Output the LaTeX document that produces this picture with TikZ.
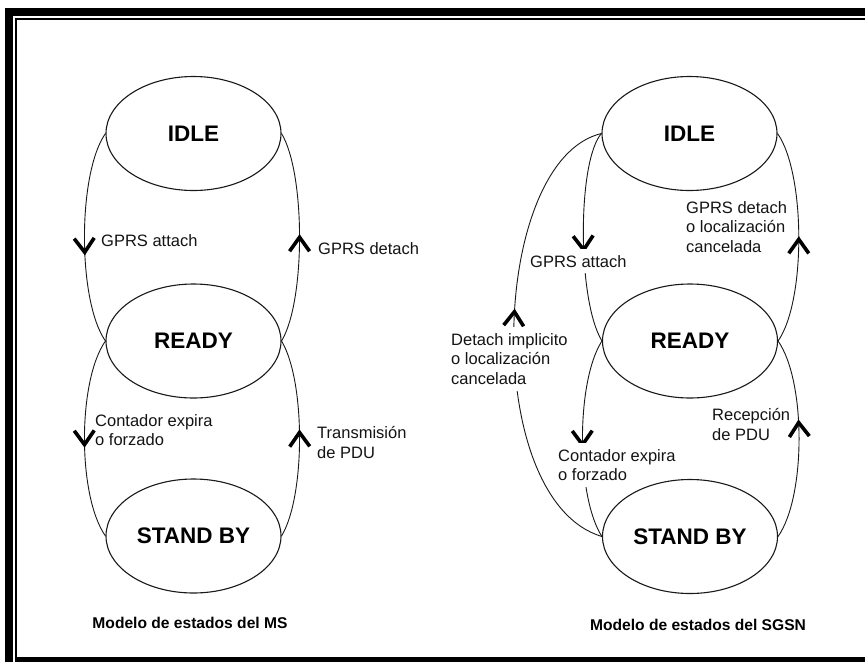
\documentclass[tikz,border=0pt]{standalone}
\usepackage{fontspec}
\setmainfont{Liberation Sans}
\usetikzlibrary{shapes.geometric,decorations.markings}
\pgfdeclarelayer{paper}
\pgfdeclarelayer{wires}
\pgfdeclarelayer{labels}
\pgfsetlayers{paper,wires,labels,main}

\begin{document}
\begin{tikzpicture}[x=1pt,y=-1pt,
  state/.style={draw=black!90, line width=1.1pt, ellipse,
    minimum width=175pt, minimum height=114pt, inner sep=0pt,
    font=\fontsize{22.5}{27}\selectfont\bfseries},
  trans/.style={draw=black!90, line width=0.9pt},
  % bold open chevron placed along a transition, tip at the mark
  chev/.style={postaction={decorate},
    decoration={markings, mark=at position #1 with
      {\draw[black, line width=3.6pt, line join=miter, line cap=butt]
         (-14,10) -- (0,0) -- (-14,-10);}}},
  lbl/.style={anchor=north west, align=left, inner xsep=1pt, inner ysep=6pt,
    text=black!92, font=\fontsize{16.5}{19.7}\selectfont},
  gap/.style={fill=white},
  caption/.style={font=\fontsize{15.6}{18}\selectfont\bfseries},
]
% page and frame
\begin{pgfonlayer}{paper}
\fill[white] (0,0) rectangle (865,662);
\end{pgfonlayer}
\useasboundingbox (0,0) rectangle (865,662);
\fill (5,8) rectangle (865,16);
\fill (5,8) rectangle (13,662);
\fill (15,18) rectangle (865,20);
\fill (15,18) rectangle (17,662);
\fill (15,657) rectangle (865,662);

% states of the MS
\node[state] (idleL)  at (193.5,133.5) {IDLE};
\node[state] (readyL) at (193.5,341)   {READY};
\node[state] (standL) at (193.5,536)   {STAND BY};
% states of the SGSN
\node[state] (idleR)  at (689.5,133.5) {IDLE};
\node[state] (readyR) at (690,341)     {READY};
\node[state] (standR) at (690,536.5)   {STAND BY};

\begin{pgfonlayer}{wires}
% MS transitions
\draw[trans, chev=0.57] (idleL.west)  .. controls +(-28,40) and +(-28,-40) .. (readyL.west);
\draw[trans, chev=0.50] (readyL.east) .. controls +(24,-40) and +(24,40)   .. (idleL.east);
\draw[trans, chev=0.53] (readyL.west) .. controls +(-28,40) and +(-28,-40) .. (standL.west);
\draw[trans, chev=0.53] (standL.east) .. controls +(24,-40) and +(24,40)   .. (readyL.east);
% SGSN transitions
\draw[trans, chev=0.56] (idleR.west)  .. controls +(-24,27) and +(-25,-41) .. (readyR.west);
\draw[trans, chev=0.49] (readyR.east) .. controls +(28,-40) and +(28,40)   .. (idleR.east);
\draw[trans, chev=0.55] (standR.west) .. controls +(-122.5,-36.5) and +(-112,26.5) .. (idleR.west);
\draw[trans, chev=0.53] (readyR.west) .. controls +(-26,40) and +(-26,-40) .. (standR.west);
\draw[trans, chev=0.58] (standR.east) .. controls +(28,-40) and +(28,40)   .. (readyR.east);
\end{pgfonlayer}

\begin{pgfonlayer}{labels}
% MS labels
\node[lbl] (lAttach) at (100,228) {GPRS attach};
\node[lbl] (lDetach) at (317,236) {GPRS detach};
\node[lbl] (lTimer)  at (94,408)  {Contador expira\\o forzado};
\node[lbl] (lTx)     at (316,420) {Transmisión\\de PDU};
% SGSN labels
\node[lbl,gap] (rAttach) at (529,249) {GPRS attach};
\node[lbl]     (rDetach) at (685,195) {GPRS detach\\o localización\\cancelada};
\node[lbl,gap] (rImpl)   at (450,327) {Detach implicito\\o localización\\cancelada};
\node[lbl,gap] (rTimer)  at (557,443) {Contador expira\\o forzado};
\node[lbl]     (rRx)     at (711,402) {Recepción\\de PDU};
\end{pgfonlayer}

% captions
\node[caption] (capL) at (190,623) {Modelo de estados del MS};
\node[caption] (capR) at (698,625) {Modelo de estados del SGSN};
\end{tikzpicture}
\end{document}
